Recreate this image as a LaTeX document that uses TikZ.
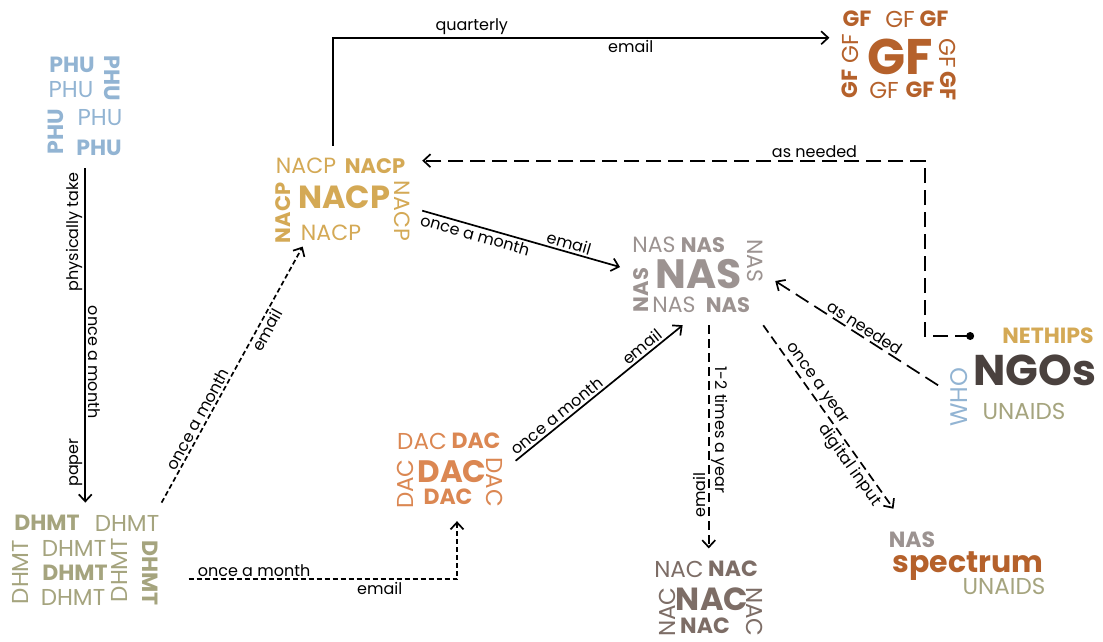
\documentclass[tikz,border=0pt]{standalone}
\usepackage{fontspec}
\setmainfont{Poppins}
\usetikzlibrary{arrows.meta, positioning, fit}

\definecolor{phucol}{HTML}{92B4D3}
\definecolor{nacpcol}{HTML}{D4A955}
\definecolor{gfcol}{HTML}{B5612B}
\definecolor{nascol}{HTML}{9C9391}
\definecolor{ngocol}{HTML}{4A413E}
\definecolor{dhmtcol}{HTML}{A5A47E}
\definecolor{daccol}{HTML}{DB8752}
\definecolor{naccol}{HTML}{7D6D66}

\tikzset{
  rg/.style={inner sep=0pt, font=\fontsize{#1}{#1}\selectfont},
  rg/.default=23,
  bd/.style={inner sep=0pt, font=\fontsize{#1}{#1}\selectfont\bfseries},
  bd/.default=22,
  cluster/.style={inner sep=12pt},
  lbl/.style={font=\fontsize{16}{16}\selectfont, inner sep=2pt},
  arrow/.style={line width=1.7pt, -{Straight Barb[length=7pt,width=13pt]}},
  dashedlong/.style={arrow, dash pattern=on 15pt off 7pt},
  dashedmid/.style={arrow, dash pattern=on 9pt off 5pt},
  dashedshort/.style={arrow, dash pattern=on 5pt off 3pt}
}

\begin{document}
\begin{tikzpicture}[x=1pt, y=-1pt]
\fill[white] (0,0) rectangle (1103,641);
\useasboundingbox (0,0) rectangle (1103,641);

% PHU
\node (phu1) [bd, text=phucol] at (72,65) {PHU};
\node (phu2) [rg, text=phucol] at (71,90) {PHU};
\node (phu3) [bd, text=phucol, rotate=-90] at (112,78) {PHU};
\node (phu4) [bd, text=phucol, rotate=90] at (56,132) {PHU};
\node (phu5) [rg, text=phucol] at (100,118) {PHU};
\node (phu6) [bd, text=phucol] at (99,148) {PHU};
\node (PHU) [cluster, fit=(phu1)(phu2)(phu3)(phu4)(phu5)(phu6)] {};

% NACP
\node (nacp0) [bd=32, text=nacpcol] at (344,197) {NACP};
\node (nacp1) [rg=22, text=nacpcol] at (306,166) {NACP};
\node (nacp2) [bd=21, text=nacpcol] at (375,166) {NACP};
\node (nacp3) [bd=21, text=nacpcol, rotate=90] at (283,213) {NACP};
\node (nacp4) [rg=22, text=nacpcol] at (331,233) {NACP};
\node (nacp5) [rg=22, text=nacpcol, rotate=-90] at (402,211) {NACP};
\node (NACP) [cluster, fit=(nacp0)(nacp1)(nacp2)(nacp3)(nacp4)(nacp5)] {};

% GF
\node (gf0) [bd=50, text=gfcol] at (900,57) {GF};
\node (gf1) [bd, text=gfcol] at (857,19) {GF};
\node (gf2) [rg, text=gfcol] at (900,19) {GF};
\node (gf3) [bd, text=gfcol] at (934,19) {GF};
\node (gf4) [rg, text=gfcol, rotate=90] at (850,49) {GF};
\node (gf5) [bd, text=gfcol, rotate=90] at (850,84) {GF};
\node (gf6) [rg, text=gfcol, rotate=-90] at (948,53) {GF};
\node (gf7) [bd, text=gfcol, rotate=-90] at (948,86) {GF};
\node (gf8) [rg, text=gfcol] at (884,90) {GF};
\node (gf9) [bd, text=gfcol] at (920,90) {GF};
\node (GF) [cluster, fit=(gf0)(gf1)(gf3)(gf4)(gf5)(gf6)(gf7)(gf8)(gf9)] {};

% NAS
\node (nas0) [bd=41, text=nascol] at (699,274) {NAS};
\node (nas1) [rg=22, text=nascol] at (654,245) {NAS};
\node (nas2) [bd=21, text=nascol] at (703,245) {NAS};
\node (nas3) [rg=22, text=nascol, rotate=-90] at (755,261) {NAS};
\node (nas4) [bd=21, text=nascol, rotate=90] at (641,290) {NAS};
\node (nas5) [rg=22, text=nascol] at (674,305) {NAS};
\node (nas6) [bd=21, text=nascol] at (728,305) {NAS};
\node (NAS) [cluster, fit=(nas0)(nas1)(nas2)(nas3)(nas4)(nas5)(nas6)] {};

% NGOs
\node (ngos) [bd=43, text=ngocol] at (1035,370) {NGOs};
\node (nethips) [bd=22, text=nacpcol] at (1048,336) {NETHIPS};
\node (who) [rg=24, text=phucol, rotate=90] at (959,397) {WHO};
\node (unaids) [rg, text=dhmtcol] at (1024,411) {UNAIDS};
\node (NGOs) [cluster, fit=(ngos)(nethips)(who)(unaids)] {};
\coordinate (ngodot) at ([xshift=-32pt]nethips.west);

% DHMT
\node (dhmt1) [bd, text=dhmtcol] at (47,523) {DHMT};
\node (dhmt2) [rg, text=dhmtcol] at (127,523) {DHMT};
\node (dhmt3) [rg, text=dhmtcol, rotate=90] at (20,572) {DHMT};
\node (dhmt4) [rg, text=dhmtcol] at (74,548) {DHMT};
\node (dhmt5) [bd, text=dhmtcol] at (75,573) {DHMT};
\node (dhmt6) [rg, text=dhmtcol] at (73,597) {DHMT};
\node (dhmt7) [rg, text=dhmtcol, rotate=90] at (119,570) {DHMT};
\node (dhmt8) [bd, text=dhmtcol, rotate=-90] at (150,573) {DHMT};
\node (DHMT) [cluster, fit=(dhmt1)(dhmt2)(dhmt3)(dhmt6)(dhmt7)(dhmt8)] {};

% DAC
\node (dac0) [bd=31, text=daccol] at (452,472) {DAC};
\node (dac1) [rg, text=daccol] at (422,441) {DAC};
\node (dac2) [bd, text=daccol] at (476,441) {DAC};
\node (dac3) [rg, text=daccol, rotate=90] at (405,484) {DAC};
\node (dac4) [rg, text=daccol, rotate=-90] at (495,482) {DAC};
\node (dac5) [bd, text=daccol] at (448,497) {DAC};
\node (DAC) [cluster, fit=(dac0)(dac1)(dac2)(dac3)(dac4)(dac5)] {};

% NAC
\node (nac0) [bd=32, text=naccol] at (712,599) {NAC};
\node (nac1) [rg, text=naccol] at (679,569) {NAC};
\node (nac2) [bd, text=naccol] at (733,569) {NAC};
\node (nac3) [rg, text=naccol, rotate=90] at (667,612) {NAC};
\node (nac4) [rg, text=naccol, rotate=-90] at (755,612) {NAC};
\node (nac5) [bd, text=naccol] at (705,626) {NAC};
\node (NAC) [cluster, fit=(nac0)(nac1)(nac2)(nac3)(nac4)(nac5)] {};

% spectrum
\node (spec) [bd=30, text=gfcol, anchor=base] at (968,572) {spectrum};
\node (specnas) [bd=22, text=nascol] at (912,540) {NAS};
\node (specunaids) [rg, text=dhmtcol] at (1004,586) {UNAIDS};
\node (spectrum) [cluster, fit=(spec)(specnas)(specunaids)] {};

% connectors
\draw[arrow] (PHU.south) -- (PHU.south |- DHMT.north)
  node[lbl, rotate=90, anchor=south, pos=0.19] {physically take}
  node[lbl, rotate=90, anchor=south, pos=0.88] {paper}
  node[lbl, rotate=-90, anchor=south, pos=0.58] {once a month};
\draw[arrow] ([xshift=-10pt]NACP.north) |- ([yshift=18pt]GF.west)
  node[lbl, above, pos=0.64] {quarterly}
  node[lbl, below, pos=0.8] {email};
\draw[dashedlong] (ngodot) -- ++(-45,0) |- ([yshift=40pt]NACP.east)
  node[lbl, above, pos=0.61] {as needed};
\fill (ngodot) circle (4pt);
\draw[arrow] ([yshift=-10pt]NACP.east) -- ([yshift=8pt]NAS.west)
  node[lbl, below, sloped, pos=0.28] {once a month}
  node[lbl, above, sloped, pos=0.73] {email};
\draw[dashedlong] ([yshift=-8pt]NGOs.west) -- ([yshift=-6pt]NAS.east)
  node[lbl, above, sloped, pos=0.48] {as needed};
\draw[dashedshort] ([xshift=-10pt]DHMT.north east) -- ([shift={(-40pt,9pt)}]NACP.south)
  node[lbl, above, sloped, pos=0.31] {once a month}
  node[lbl, below, sloped, pos=0.69] {email};
\draw[dashedshort] ([shift={(17pt,-19pt)}]DHMT.east) -| ([xshift=7pt]DAC.south)
  node[lbl, above, pos=0.122] {once a month}
  node[lbl, below, pos=0.356] {email};
\draw[arrow] ([yshift=10pt]DAC.east) -- ([xshift=-15pt]NAS.south)
  node[lbl, above, sloped, pos=0.28] {once a month}
  node[lbl, above, sloped, pos=0.79] {email};
\draw[dashedmid] (NAC.north |- NAS.south) -- (NAC.north)
  node[lbl, rotate=-90, anchor=south, pos=0.47] {1-2 times a year}
  node[lbl, rotate=90, anchor=south, pos=0.76] {email};
\draw[dashedmid] ([xshift=-12pt]NAS.south east) -- ([shift={(17pt,11pt)}]spectrum.north west)
  node[lbl, above, sloped, pos=0.35] {once a year}
  node[lbl, below, sloped, pos=0.73] {digital input};
\end{tikzpicture}
\end{document}
